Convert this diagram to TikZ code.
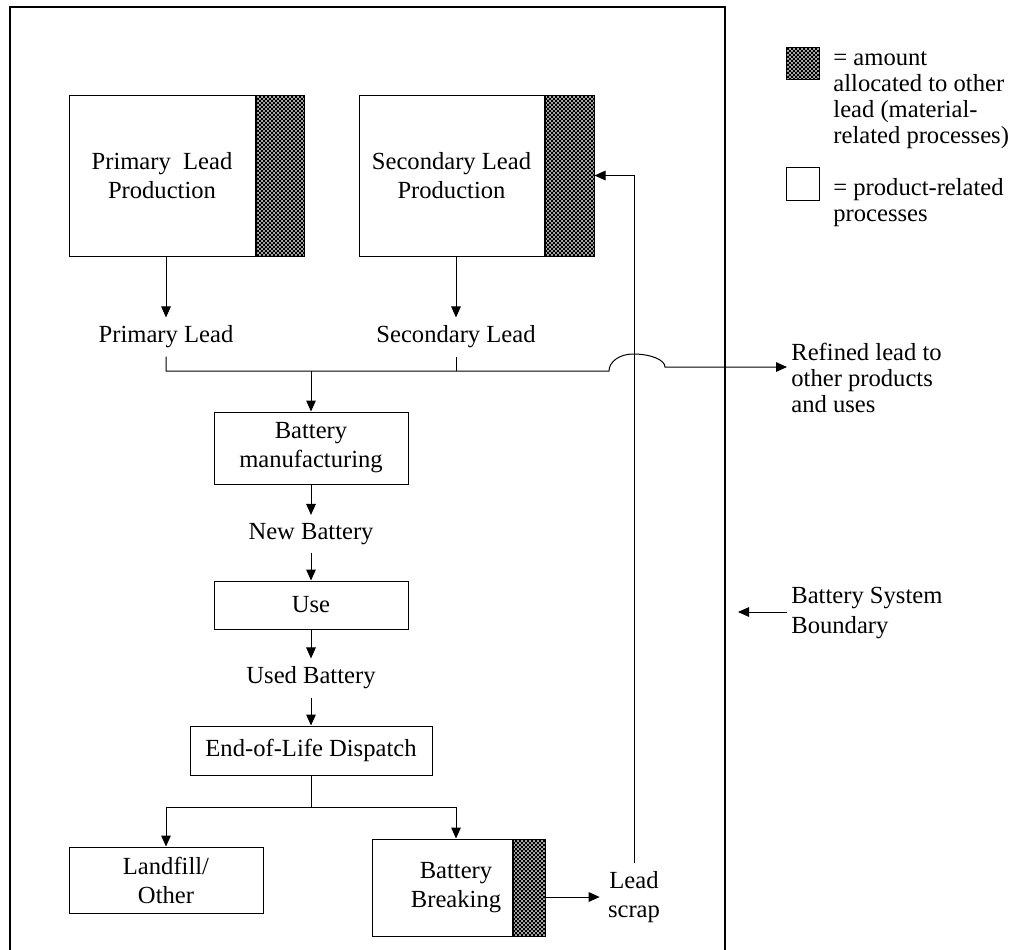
\documentclass[tikz,border=0pt]{standalone}
\usepackage{fontspec}
\setmainfont{Liberation Serif}
\usetikzlibrary{arrows.meta,patterns}

% relleno cuadriculado
\pgfdeclarepatternformonly{leadcheck}{\pgfqpoint{-0.5pt}{-0.5pt}}{\pgfqpoint{2.5pt}{2.5pt}}{\pgfqpoint{2pt}{2pt}}{
  \pgfsetlinewidth{0.42pt}
  \pgfpathmoveto{\pgfqpoint{-0.5pt}{-0.5pt}}\pgfpathlineto{\pgfqpoint{2.5pt}{2.5pt}}
  \pgfpathmoveto{\pgfqpoint{-0.5pt}{2.5pt}}\pgfpathlineto{\pgfqpoint{2.5pt}{-0.5pt}}
  \pgfusepath{stroke}}

\tikzset{
  procbox/.style={draw, line width=0.5pt, fill=white, align=center, inner sep=0pt},
  hatchbox/.style={draw, line width=0.5pt, preaction={fill=gray!25}, pattern=leadcheck, inner sep=0pt, anchor=north west},
  flowlabel/.style={align=center, inner sep=4pt},
  sidetext/.style={align=left, inner sep=2pt, anchor=west, font=\fontsize{12.3pt}{13pt}\selectfont},
  link/.style={line width=0.5pt},
}

\begin{document}
\begin{tikzpicture}[x=0.5pt, y=-0.5pt, >={Triangle[length=5.5pt,width=4.8pt]},
    font=\fontsize{12.3pt}{14.5pt}\selectfont]
        \clip (0,0) rectangle (1016,949);

        % limite del sistema
        \draw[line width=1pt] (10,955) -- (10,7) -- (725,7) -- (725,955);

        % produccion de plomo
        \node[procbox, minimum width=93pt, minimum height=80.5pt] (prim) at (162,175.5) {Primary\ \ Lead\\Production};
        \node[hatchbox, minimum width=24pt, minimum height=80.5pt] (primhatch) at (prim.north east) {};
        \node[procbox, minimum width=92.5pt, minimum height=80.5pt] (sec) at (451.5,175.5) {Secondary Lead\\Production};
        \node[hatchbox, minimum width=24.5pt, minimum height=80.5pt] (sechatch) at (sec.north east) {};

        \node[flowlabel] (primlead) at (166,337) {Primary Lead};
        \node[flowlabel] (seclead) at (456,337) {Secondary Lead};
        \draw[link,->] (prim.south -| primlead) -- (primlead.north);
        \draw[link,->] (sec.south -| seclead) -- (seclead.north);

        % cadena de la bateria
        \node[procbox, minimum width=97pt, minimum height=36pt] (manuf) at (311,448) {Battery\\manufacturing};
        \node[flowlabel] (newbat) at (311,534) {New Battery};
        \node[procbox, minimum width=97pt, minimum height=24pt] (use) at (311,605) {Use};
        \node[flowlabel] (usedbat) at (311,678) {Used Battery};
        \node[procbox, minimum width=121pt, minimum height=24.5pt] (eol) at (311,750.5) {End-of-Life Dispatch};
        \node[procbox, minimum width=97pt, minimum height=33pt] (landfill) at (166,880) {Landfill/\\Other};
        \node[procbox, minimum width=70pt, minimum height=48.5pt] (breaking) at (442,887.5) {\hspace*{14pt}Battery\\\hspace*{14pt}Breaking};
        \node[hatchbox, minimum width=16pt, minimum height=48.5pt] (breakhatch) at (breaking.north east) {};
        \node[flowlabel] (scrap) at (634,897) {Lead\\scrap};

        % union y salto
        \coordinate (merge) at (311,371);
        \coordinate (hopstart) at (609,371);
        \node[sidetext] (refined) at (787,378) {Refined lead to\\other products\\and uses};
        \draw[link] (seclead.south) -- (seclead.south |- merge);
        \draw[link,->] (primlead.south) |- (hopstart)
            arc[start angle=180, end angle=270, x radius=24, y radius=17]
            arc[start angle=270, end angle=360, x radius=32, y radius=13] coordinate (hopend)
            -- (hopend -| refined.west);
        \draw[link,->] (merge) -- (manuf.north);
        \draw[link,->] (manuf) -- (newbat);
        \draw[link,->] (newbat) -- (use);
        \draw[link,->] (use) -- (usedbat);
        \draw[link,->] (usedbat) -- (eol);

        \coordinate (split) at (311,807);
        \draw[link] (eol.south) -- (split);
        \draw[link,->] (split) -| (landfill.north);
        \draw[link,->] (split) -| ([xshift=7pt]breaking.north);
        \draw[link,->] (breakhatch.east |- scrap) -- (scrap.west);
        \draw[link,->] (scrap.north) |- (sechatch.east);

        % leyenda
        \node[hatchbox, anchor=center, minimum width=16.5pt, minimum height=16pt] (keyhatch) at (802.5,63) {};
        \node[procbox, minimum width=16.5pt, minimum height=16.5pt] (keyplain) at (802.5,183.5) {};
        \node[sidetext, anchor=north west] (keyhatchtext) at (829,47) {= amount\\allocated to other\\lead (material-\\related processes)};
        \node[sidetext, anchor=north west] (keyplaintext) at (829,174) {= product-related\\processes};

        % limite
        \coordinate (edge) at (738,612);
        \node[sidetext, font=\fontsize{12.3pt}{15pt}\selectfont] (sysbound) at (787,613) {Battery System\\Boundary};
        \draw[link,->] (sysbound.west |- edge) -- (edge);
    \end{tikzpicture}
\end{document}
